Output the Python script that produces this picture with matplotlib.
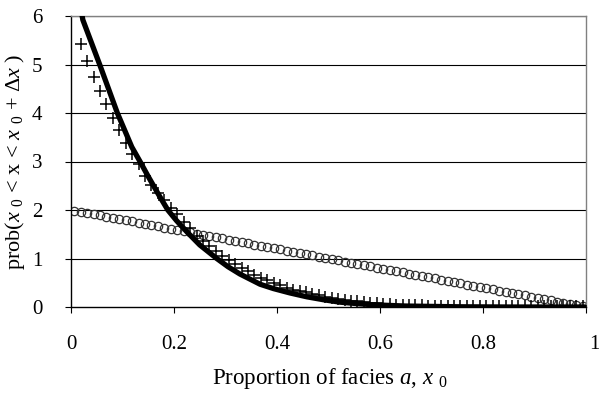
import matplotlib
matplotlib.use('Agg')
import matplotlib.pyplot as plt
import matplotlib.transforms as mtransforms
import numpy as np

plt.rcParams['font.family'] = ['Liberation Serif', 'DejaVu Serif']
plt.rcParams['mathtext.fontset'] = 'custom'
plt.rcParams['mathtext.rm'] = 'Liberation Serif'
plt.rcParams['mathtext.it'] = 'Liberation Serif:italic'

# bin centres shared by both marker series
x_bins = [0.00625, 0.01875, 0.03125, 0.04375, 0.05625, 0.06875, 0.08125, 0.09375,
          0.10625, 0.11875, 0.13125, 0.14375, 0.15625, 0.16875, 0.18125, 0.19375,
          0.20625, 0.21875, 0.23125, 0.24375, 0.25625, 0.26875, 0.28125, 0.29375,
          0.30625, 0.31875, 0.33125, 0.34375, 0.35625, 0.36875, 0.38125, 0.39375,
          0.40625, 0.41875, 0.43125, 0.44375, 0.45625, 0.46875, 0.48125, 0.49375,
          0.50625, 0.51875, 0.53125, 0.54375, 0.55625, 0.56875, 0.58125, 0.59375,
          0.60625, 0.61875, 0.63125, 0.64375, 0.65625, 0.66875, 0.68125, 0.69375,
          0.70625, 0.71875, 0.73125, 0.74375, 0.75625, 0.76875, 0.78125, 0.79375,
          0.80625, 0.81875, 0.83125, 0.84375, 0.85625, 0.86875, 0.88125, 0.89375,
          0.90625, 0.91875, 0.93125, 0.94375, 0.95625, 0.96875, 0.98125, 0.99375]

circles = [1.988, 1.963, 1.938, 1.913, 1.888, 1.863, 1.838, 1.813, 1.788, 1.763,
           1.738, 1.713, 1.688, 1.663, 1.638, 1.613, 1.588, 1.563, 1.538, 1.513,
           1.488, 1.463, 1.438, 1.413, 1.388, 1.363, 1.338, 1.313, 1.288, 1.263,
           1.238, 1.213, 1.188, 1.163, 1.138, 1.113, 1.088, 1.063, 1.038, 1.013,
           0.988, 0.963, 0.938, 0.913, 0.888, 0.863, 0.838, 0.813, 0.788, 0.763,
           0.738, 0.713, 0.688, 0.663, 0.638, 0.613, 0.588, 0.563, 0.538, 0.513,
           0.488, 0.463, 0.438, 0.413, 0.388, 0.363, 0.338, 0.313, 0.288, 0.263,
           0.238, 0.213, 0.188, 0.163, 0.138, 0.113, 0.088, 0.063, 0.038, 0.013]

crosses = [np.nan, 5.42, 5.08, 4.75, 4.46, 4.19, 3.89, 3.64, 3.39, 3.15,
           2.95, 2.70, 2.52, 2.36, 2.20, 2.05, 1.92, 1.76, 1.62, 1.47,
           1.36, 1.25, 1.15, 1.05, 0.96, 0.89, 0.81, 0.74, 0.67, 0.60,
           0.55, 0.50, 0.45, 0.40, 0.36, 0.33, 0.30, 0.27, 0.24, 0.21,
           0.19, 0.17, 0.15, 0.13, 0.12, 0.10, 0.09, 0.08, 0.07, 0.06,
           0.05, 0.05, 0.04, 0.04, 0.04, 0.03, 0.03, 0.03, 0.03, 0.03,
           0.02, 0.02, 0.02, 0.02, 0.02, 0.02, 0.02, 0.02, 0.02, 0.02,
           0.02, 0.02, 0.02, 0.02, 0.02, 0.02, 0.02, 0.02, 0.02, 0.02]

# thick curve
line_x = [0.015, 0.023, 0.056, 0.090, 0.104, 0.118, 0.134, 0.150, 0.170, 0.188,
          0.205, 0.225, 0.250, 0.283, 0.305, 0.328, 0.367, 0.393, 0.425, 0.458,
          0.490, 0.522, 0.555, 0.587, 0.650, 0.750, 0.850, 1.0]
line_y = [6.40, 5.92, 4.99, 4.00, 3.65, 3.30, 3.00, 2.69, 2.32, 2.00,
          1.78, 1.55, 1.28, 1.00, 0.83, 0.68, 0.47, 0.38, 0.29, 0.21,
          0.15, 0.10, 0.07, 0.045, 0.02, 0.005, 0.0, 0.0]

xticks = [0, 0.2, 0.4, 0.6, 0.8, 1]
xticklabels = ['0', '0.2', '0.4', '0.6', '0.8', '1']
yticks = [0, 1, 2, 3, 4, 5, 6]

fig = plt.figure(figsize=(5.99, 3.98), dpi=100)
ax = fig.add_axes([71/599, 91/398, 515/599, 291/398])

for yv in yticks[1:]:
    ax.axhline(yv, color='black', lw=0.8, zorder=1)

ax.plot(x_bins, circles, 'o', mfc='none', mec='#333333', mew=0.9, ms=6, zorder=2)
ax.plot(x_bins, crosses, '+', color='black', mew=1.1, ms=8, zorder=3)
ax.plot(line_x, line_y, '-', color='black', lw=3.8, zorder=4, solid_capstyle='butt')

ax.set_xlim(0, 1)
ax.set_ylim(0, 6)
ax.set_xticks(xticks)
ax.set_xticklabels(xticklabels)
ax.set_yticks(yticks)
ax.tick_params(direction='out', length=4.5, width=0.8, labelsize=15, color='black')
ax.tick_params(axis='x', pad=16)
ax.tick_params(axis='y', pad=16)

# last x label sits a bit right of its tick, near the image edge
lab = ax.get_xticklabels()[-1]
lab.set_transform(lab.get_transform() + mtransforms.ScaledTranslation(8/100, 0, fig.dpi_scale_trans))

for s in ['left', 'bottom']:
    ax.spines[s].set_color('black')
    ax.spines[s].set_linewidth(1.0)
for s in ['top', 'right']:
    ax.spines[s].set_color('#808080')
    ax.spines[s].set_linewidth(1.0)

ax.set_xlabel(r'Proportion of facies $a$, $x$ $_0$', fontsize=16.5)
ax.xaxis.set_label_coords(0.503, -0.247)
ax.xaxis.label.set_verticalalignment('center')
ax.set_ylabel(r'prob($x$ $_0$ < x < $x$ $_0$ + $\Delta x$ )', fontsize=16)
ax.yaxis.set_label_coords(-0.108, 0.5)
ax.yaxis.label.set_verticalalignment('center')

fig.savefig('out.png', dpi=100)
